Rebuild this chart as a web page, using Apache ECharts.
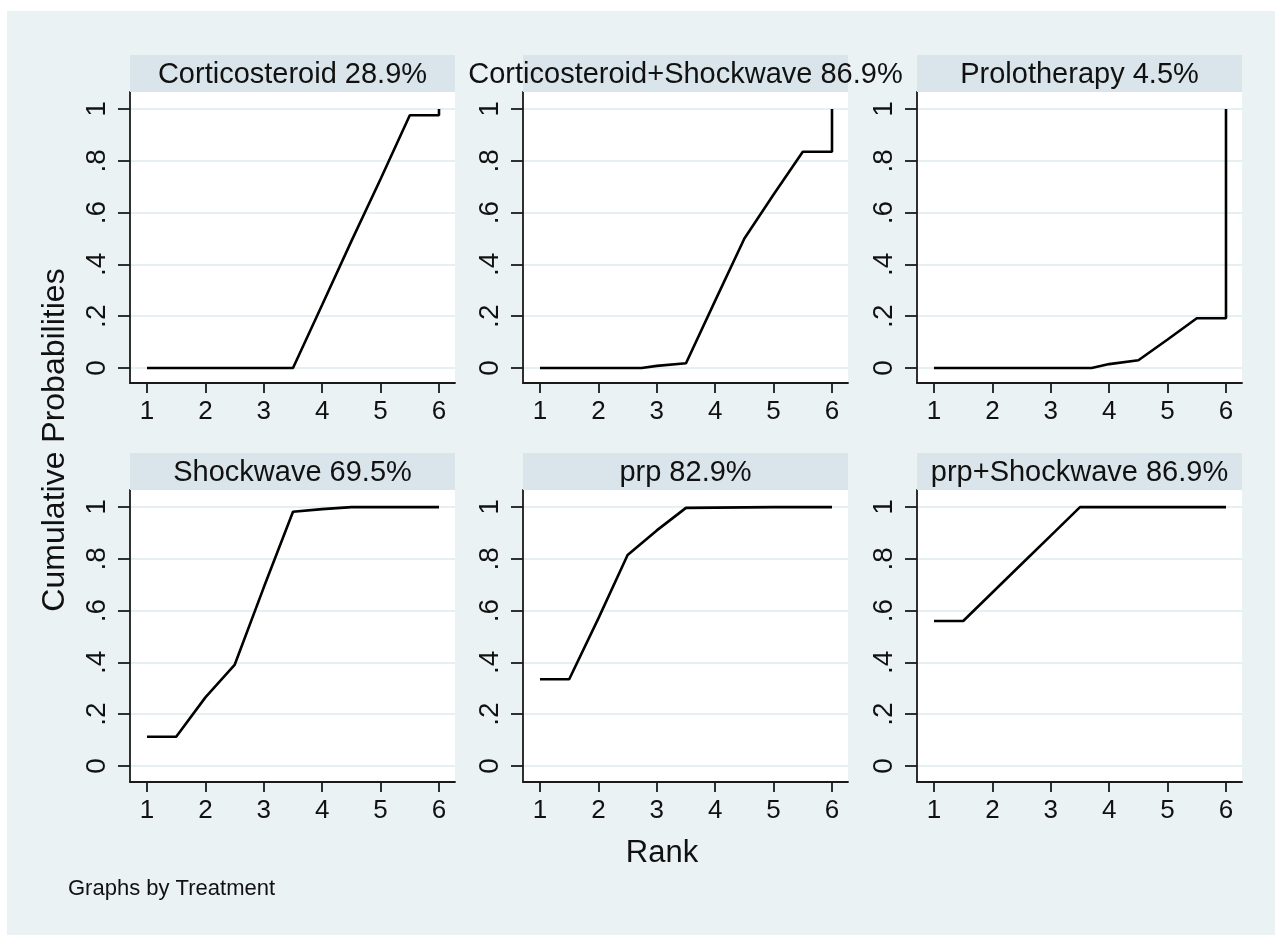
<!DOCTYPE html>
<html><head><meta charset="utf-8">
<script src="https://cdn.jsdelivr.net/npm/echarts@6/dist/echarts.min.js"></script>
<style>html,body{margin:0;padding:0;background:#fff}#c{width:1275px;height:935px}</style>
</head><body><div id="c"></div>
<script>
// ---- data ----
const treatments = ['Corticosteroid', 'Corticosteroid+Shockwave', 'Prolotherapy', 'Shockwave', 'prp', 'prp+Shockwave'];
const sucra = ['28.9%', '86.9%', '4.5%', '69.5%', '82.9%', '86.9%'];
const rankTicks = [1, 2, 3, 4, 5, 6];
const probTicks = [0, 0.2, 0.4, 0.6, 0.8, 1];
const probTickLabels = ['0', '.2', '.4', '.6', '.8', '1'];

const corticosteroidRank = [1, 1.5, 2.5, 3.5, 4, 4.5, 5, 5.5, 6, 6];
const corticosteroidProb = [0, 0, 0, 0, 0.244, 0.49, 0.73, 0.976, 0.976, 1];

const corticoShockRank = [1, 1.5, 2.5, 2.74, 3, 3.5, 4, 4.5, 5, 5.5, 6, 6];
const corticoShockProb = [0, 0, 0, 0, 0.008, 0.018, 0.26, 0.5, 0.67, 0.835, 0.835, 1];

const prolotherapyRank = [1, 1.5, 2.5, 3.5, 3.7, 4, 4.5, 5, 5.5, 6, 6];
const prolotherapyProb = [0, 0, 0, 0, 0, 0.015, 0.03, 0.11, 0.192, 0.192, 1];

const shockwaveRank = [1, 1.5, 2, 2.5, 3, 3.5, 4, 4.5, 5, 5.5, 6];
const shockwaveProb = [0.113, 0.113, 0.265, 0.39, 0.69, 0.982, 0.992, 1, 1, 1, 1];

const prpRank = [1, 1.5, 2, 2.5, 3, 3.5, 4, 4.5, 5, 5.5, 6];
const prpProb = [0.335, 0.335, 0.57, 0.815, 0.91, 0.997, 0.998, 0.999, 1, 1, 1];

const prpShockRank = [1, 1.5, 2, 2.5, 3, 3.5, 4, 4.5, 5, 5.5, 6];
const prpShockProb = [0.56, 0.56, 0.67, 0.78, 0.89, 1, 1, 1, 1, 1, 1];

const seriesRanks = [corticosteroidRank, corticoShockRank, prolotherapyRank, shockwaveRank, prpRank, prpShockRank];
const seriesProbs = [corticosteroidProb, corticoShockProb, prolotherapyProb, shockwaveProb, prpProb, prpShockProb];

// ---- layout ----
const FONT = '"Liberation Sans", Arial, sans-serif';
const panelLefts = [130, 523, 917];
const panelTops = [92, 490];
const panelWidth = 325;
const panelHeights = [291, 292];
const stripHeight = 37;
const xRange = [0.709, 6.274];
const yRanges = [[-0.058, 1.066], [-0.062, 1.066]];

const grids = [], xAxes = [], yAxes = [], series = [], graphics = [];

graphics.push({
  type: 'rect', z: -10, silent: true,
  shape: { x: 7, y: 11, width: 1268, height: 924 },
  style: { fill: '#eaf2f3' }
});

for (let i = 0; i < 6; i++) {
  const r = Math.floor(i / 3), c = i % 3;
  const left = panelLefts[c], top = panelTops[r], h = panelHeights[r];
  grids.push({ left: left, top: top, width: panelWidth, height: h, show: true,
    backgroundColor: '#ffffff', borderWidth: 0, containLabel: false });
  xAxes.push({
    gridIndex: i, type: 'value', min: xRange[0], max: xRange[1],
    axisLine: { show: true, onZero: false, lineStyle: { color: '#1a1a1a', width: 1.8 } },
    axisTick: { show: true, length: 10, customValues: rankTicks, lineStyle: { color: '#1a1a1a', width: 1.8 } },
    axisLabel: { show: true, customValues: rankTicks, margin: 16, fontFamily: FONT, fontSize: 26, color: '#111',
      formatter: v => String(v) },
    splitLine: { show: false }
  });
  yAxes.push({
    gridIndex: i, type: 'value', min: yRanges[r][0], max: yRanges[r][1],
    axisLine: { show: true, onZero: false, lineStyle: { color: '#1a1a1a', width: 1.8 } },
    axisTick: { show: true, length: 12, customValues: probTicks, lineStyle: { color: '#1a1a1a', width: 1.8 } },
    axisLabel: { show: true, customValues: probTicks, rotate: 90, margin: 19, fontFamily: FONT, fontSize: 28, color: '#111',
      formatter: v => { const k = probTicks.findIndex(t => Math.abs(t - v) < 1e-6); return k >= 0 ? probTickLabels[k] : ''; } },
    splitLine: { show: true, lineStyle: { color: '#e6eff1', width: 2 } }
  });
  series.push({
    type: 'line', xAxisIndex: i, yAxisIndex: i, showSymbol: false, symbol: 'none',
    lineStyle: { color: '#000', width: 2.6 }, animation: false, clip: false,
    data: seriesRanks[i].map((x, k) => [x, seriesProbs[i][k]])
  });
  graphics.push({
    type: 'rect', silent: true, z: 1,
    shape: { x: left, y: top - stripHeight, width: panelWidth, height: stripHeight },
    style: { fill: '#d9e5eb' }
  });
  graphics.push({
    type: 'text', silent: true, z: 2,
    x: left + panelWidth / 2, y: top - stripHeight / 2 + 1,
    style: { text: treatments[i] + ' ' + sucra[i], fontFamily: FONT, fontSize: 29, fill: '#111',
      align: 'center', verticalAlign: 'middle' }
  });
}

graphics.push({
  type: 'text', silent: true, z: 2, x: 55, y: 440, rotation: Math.PI / 2,
  style: { text: 'Cumulative Probabilities', fontFamily: FONT, fontSize: 32, fill: '#111',
    align: 'center', verticalAlign: 'middle' }
});
graphics.push({
  type: 'text', silent: true, z: 2, x: 662, y: 853,
  style: { text: 'Rank', fontFamily: FONT, fontSize: 31, fill: '#111', align: 'center', verticalAlign: 'middle' }
});
graphics.push({
  type: 'text', silent: true, z: 2, x: 68, y: 889,
  style: { text: 'Graphs by Treatment', fontFamily: FONT, fontSize: 22, fill: '#111', align: 'left', verticalAlign: 'middle' }
});

const chart = echarts.init(document.getElementById('c'));
chart.setOption({
  backgroundColor: '#ffffff',
  animation: false,
  grid: grids, xAxis: xAxes, yAxis: yAxes, series: series,
  graphic: graphics
});
</script>
</body></html>
